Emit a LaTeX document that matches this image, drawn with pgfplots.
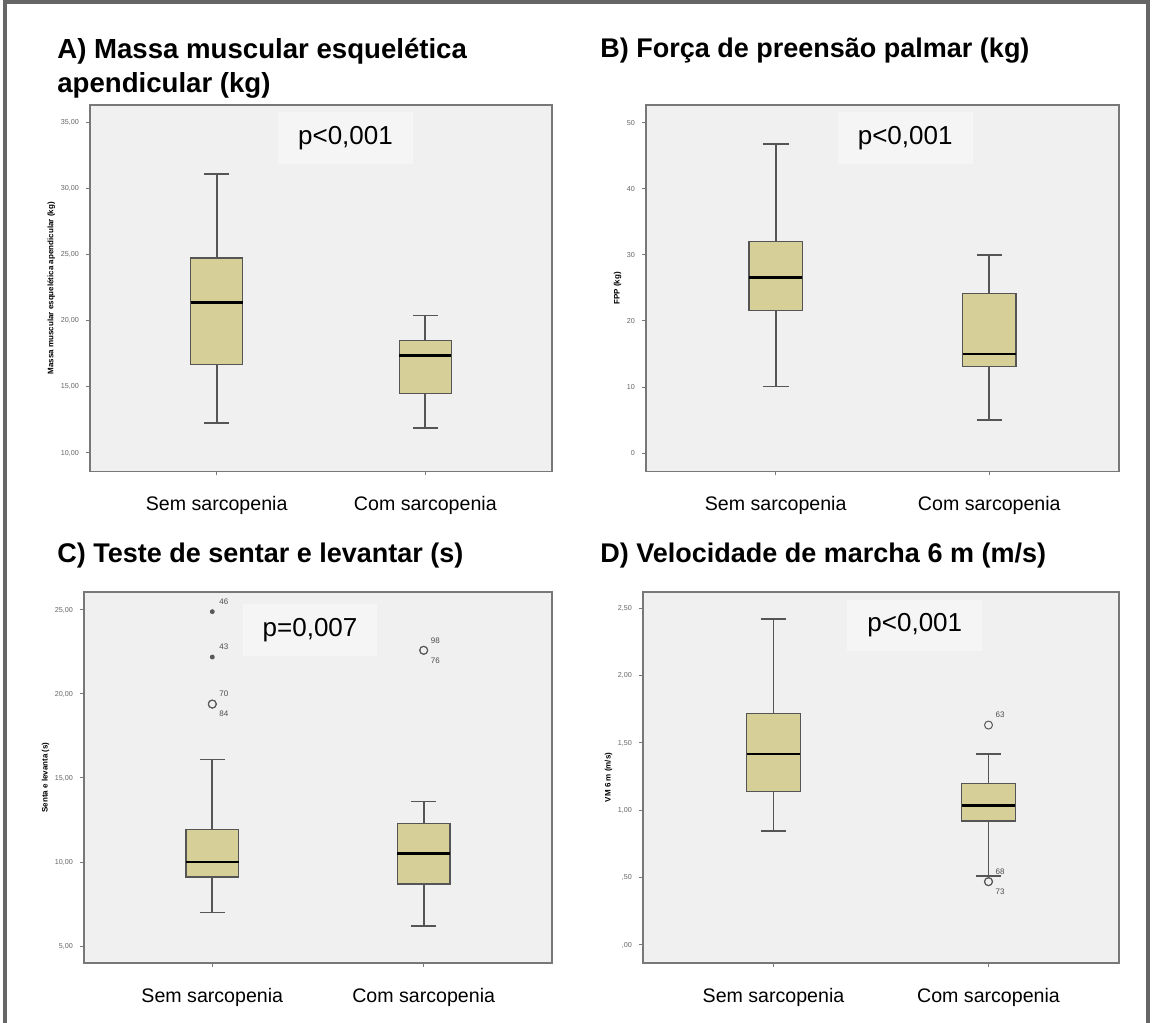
\documentclass[border=0pt]{standalone}
\usepackage{pgfplots}
\pgfplotsset{compat=1.18}
\usepgfplotslibrary{statistics}
\usepackage{fontspec}
\setmainfont{Liberation Sans}
\definecolor{boxfill}{RGB}{214,207,152}
\definecolor{plotbg}{RGB}{240,240,240}
\definecolor{framec}{RGB}{120,120,120}
\definecolor{boxline}{RGB}{85,85,85}
\newcommand{\pxc}[2]{({#1*0.5pt},{(1023-#2)*0.5pt})}
\tikzset{pval/.style={fill=black!4, font=\fontsize{13}{15}\selectfont, inner xsep=10pt, inner ysep=7pt}}
\pgfplotsset{
 panel/.style={
  scale only axis, anchor=south west,
  axis background/.style={fill=plotbg},
  axis line style={framec, line width=0.9pt},
  xmin=0.393, xmax=2.607, xtick={1,2},
  xticklabels={Sem sarcopenia, Com sarcopenia},
  xticklabel style={font=\fontsize{9.8}{11}\selectfont, yshift=-7pt},
  tick align=outside, major tick length=2pt,
  xtick pos=bottom, ytick pos=left,
  every tick/.style={framec, line width=0.5pt},
  yticklabel style={font=\fontsize{3.6}{4}\selectfont, text=black!60},
  ylabel style={font=\bfseries\fontsize{4}{5}\selectfont, yshift=-4pt},
  boxplot/draw direction=y,
  boxplot/box extend=0.25,
  boxplot/whisker extend=0.12,
  boxplot/every box/.style={fill=boxfill, draw=boxline, line width=0.7pt},
  boxplot/every whisker/.style={draw=boxline, line width=0.9pt},
  boxplot/every median/.style={draw=black, line width=1.3pt},
 },
 bx/.style={boxplot prepared={#1}, draw=boxline, line width=0.9pt, solid, mark=none},
 outl/.style={only marks, mark=o, mark size=2pt, draw=black!65, mark options={line width=0.5pt},
   point meta=explicit symbolic, nodes near coords,
   every node near coord/.style={font=\fontsize{4}{4}\selectfont, text=black!70, anchor=#1}},
 star/.style={only marks, mark=*, mark size=1pt, draw=black!65, fill=black!65,
   point meta=explicit symbolic, nodes near coords,
   every node near coord/.style={font=\fontsize{4}{4}\selectfont, text=black!70, anchor=#1}},
}
\begin{document}
\begin{tikzpicture}
\fill[white] (0,0) rectangle (576pt,511.5pt);
\path[use as bounding box] (0,0) rectangle (576pt,511.5pt);
\draw[line width=1.6pt, black!60] \pxc{5}{1023} -- \pxc{5}{2} -- \pxc{1148}{2} -- \pxc{1148}{1023};

% ---------- A ----------
\begin{axis}[panel, at={(45pt,275.75pt)}, width=231pt, height=183.25pt,
  ymin=8.6, ymax=36.34, ytick={10,15,20,25,30,35},
  yticklabels={{10,00},{15,00},{20,00},{25,00},{30,00},{35,00}},
  ylabel={Massa muscular esquelética apendicular (kg)}]
\addplot[bx={draw position=1, lower whisker=12.3, lower quartile=16.7, median=21.4, upper quartile=24.75, upper whisker=31.1}] coordinates {};
\addplot[bx={draw position=2, lower whisker=11.9, lower quartile=14.5, median=17.4, upper quartile=18.5, upper whisker=20.4}] coordinates {};
\node[pval] at (rel axis cs:0.553,0.91) {p<0,001};
\end{axis}

% ---------- B ----------
\begin{axis}[panel, at={(323pt,275.75pt)}, width=236.5pt, height=183.25pt,
  ymin=-2.77, ymax=52.68, ytick={0,10,20,30,40,50},
  yticklabels={0,10,20,30,40,50},
  ylabel={FPP (kg)}]
\addplot[bx={draw position=1, lower whisker=10.1, lower quartile=21.6, median=26.6, upper quartile=32.0, upper whisker=46.8}] coordinates {};
\addplot[bx={draw position=2, lower whisker=5.05, lower quartile=13.1, median=15.0, upper quartile=24.2, upper whisker=30.0}] coordinates {};
\node[pval] at (rel axis cs:0.548,0.91) {p<0,001};
\end{axis}

% ---------- C ----------
\begin{axis}[panel, at={(42pt,30pt)}, width=234pt, height=185.5pt,
  ymin=3.99, ymax=26.07, ytick={5,10,15,20,25},
  yticklabels={{5,00},{10,00},{15,00},{20,00},{25,00}},
  ylabel={Senta e levanta (s)}]
\addplot[bx={draw position=1, lower whisker=7.0, lower quartile=9.1, median=10.0, upper quartile=11.95, upper whisker=16.1}] coordinates {};
\addplot[bx={draw position=2, lower whisker=6.2, lower quartile=8.7, median=10.5, upper quartile=12.3, upper whisker=13.6}] coordinates {};
\addplot[star=south west] coordinates {(1,24.9)[46] (1,22.2)[43]};
\addplot[outl=south west] coordinates {(1,19.4)[70]};
\addplot[outl=north west] coordinates {(1,19.4)[84]};
\addplot[outl=south west] coordinates {(2,22.6)[98]};
\addplot[outl=north west] coordinates {(2,22.6)[76]};
\node[pval] at (rel axis cs:0.483,0.898) {p=0,007};
\end{axis}

% ---------- D ----------
\begin{axis}[panel, at={(321.5pt,30pt)}, width=238pt, height=185.5pt,
  ymin=-0.134, ymax=2.621, ytick={0,0.5,1,1.5,2,2.5},
  yticklabels={{,00},{,50},{1,00},{1,50},{2,00},{2,50}},
  ylabel={VM 6 m (m/s)}]
\addplot[bx={draw position=1, lower whisker=0.846, lower quartile=1.138, median=1.418, upper quartile=1.72, upper whisker=2.42}] coordinates {};
\addplot[bx={draw position=2, lower whisker=0.515, lower quartile=0.92, median=1.034, upper quartile=1.20, upper whisker=1.416}] coordinates {};
\addplot[outl=south west] coordinates {(2,1.633)[63]};
\addplot[outl=south west] coordinates {(2,0.47)[68]};
\addplot[outl=north west] coordinates {(2,0.47)[73]};
\node[pval] at (rel axis cs:0.571,0.91) {p<0,001};
\end{axis}

% ---------- titles ----------
\node[anchor=north west, font=\bfseries\fontsize{13.8}{17}\selectfont, align=left, inner sep=0pt] at \pxc{57}{38} {A) Massa muscular esquelética\\apendicular (kg)};
\node[anchor=north west, font=\bfseries\fontsize{13.5}{17}\selectfont, inner sep=0pt] at \pxc{600}{38} {B) Força de preensão palmar (kg)};
\node[anchor=north west, font=\bfseries\fontsize{13.5}{17}\selectfont, inner sep=0pt] at \pxc{57}{543} {C) Teste de sentar e levantar (s)};
\node[anchor=north west, font=\bfseries\fontsize{13.5}{17}\selectfont, inner sep=0pt] at \pxc{600}{543} {D) Velocidade de marcha 6 m (m/s)};
\end{tikzpicture}
\end{document}
